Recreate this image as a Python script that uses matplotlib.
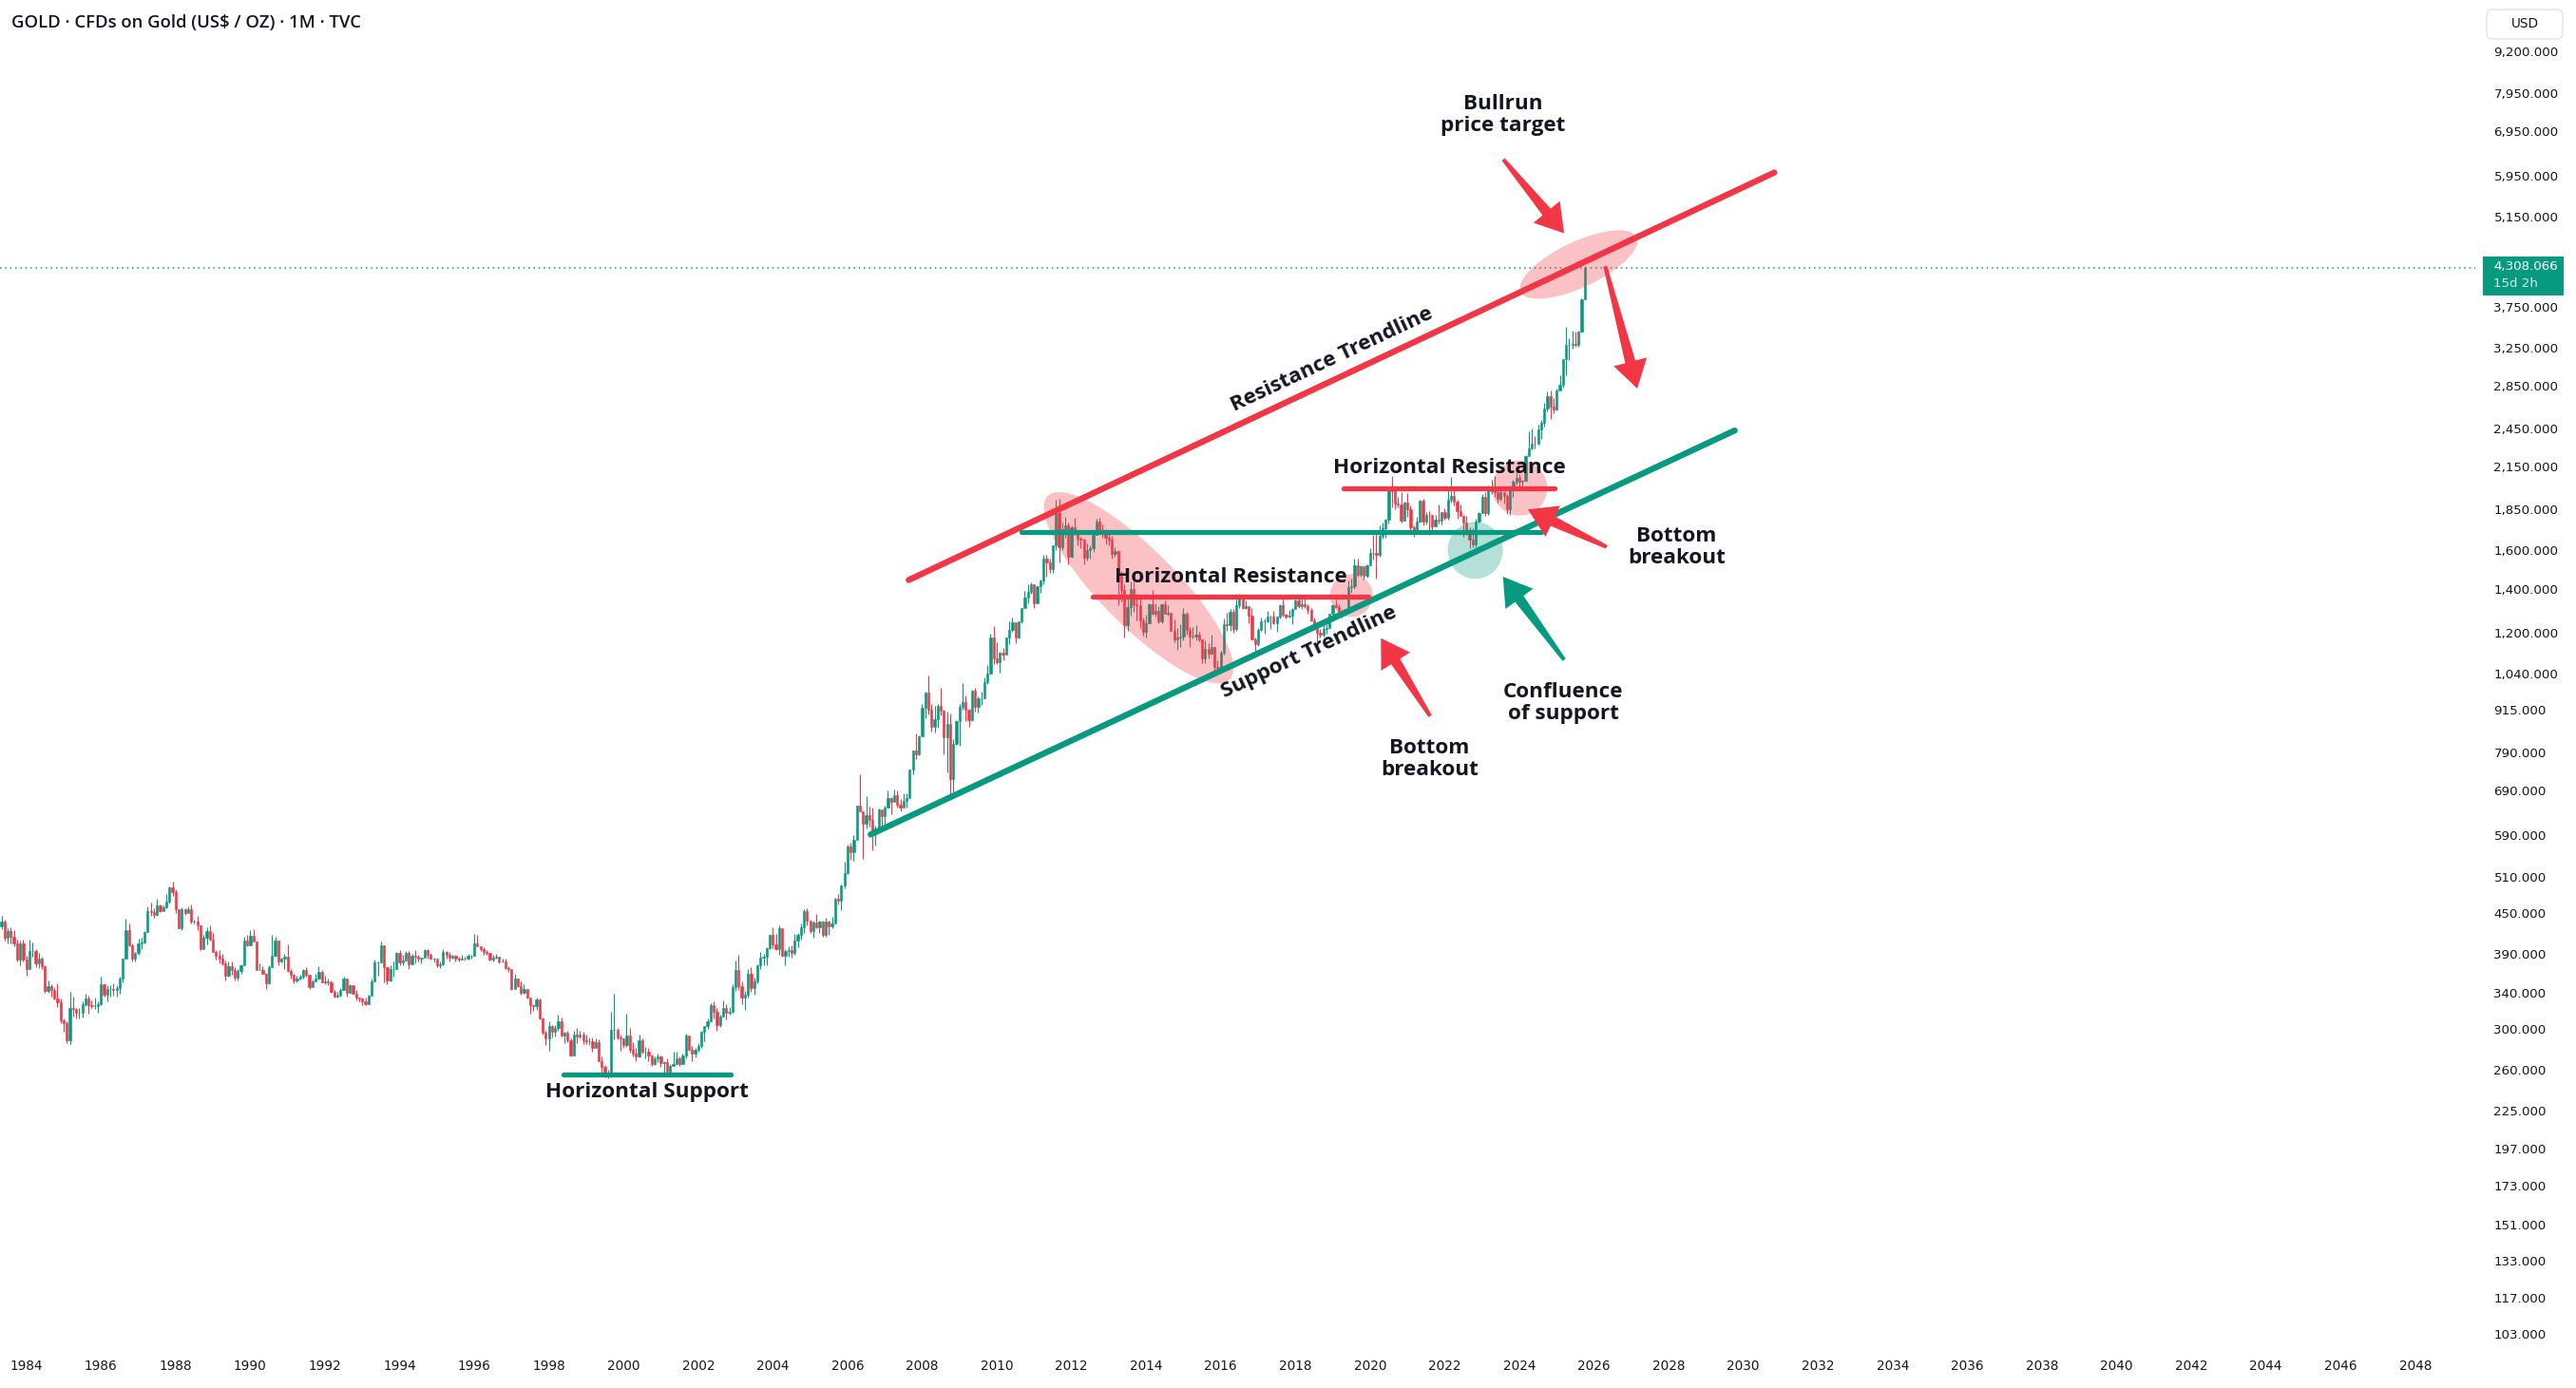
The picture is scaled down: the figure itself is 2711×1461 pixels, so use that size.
import numpy as np
import matplotlib.pyplot as plt
from matplotlib.patches import Ellipse, Polygon, Rectangle, FancyBboxPatch
from matplotlib.transforms import IdentityTransform

# monthly gold candles, first one is Apr 1983
start_year, start_month = 1983, 4
first_open = 414

closes = [
    429, 437, 413, 422, 414, 405, 382, 405, 382,  # 1983
    370, 394, 394, 377, 384, 373, 342, 348, 343, 333, 329, 309,  # 1984
    306, 288, 323, 321, 317, 317, 327, 333, 326, 325, 325, 327,  # 1985
    350, 338, 345, 345, 343, 346, 357, 384, 424, 401, 383, 391,  # 1986
    405, 406, 421, 452, 451, 447, 462, 453, 459, 468, 492, 484,  # 1987
    456, 427, 456, 449, 456, 436, 436, 430, 396, 412, 422, 410,  # 1988
    393, 387, 383, 377, 361, 373, 368, 359, 367, 375, 409, 401,  # 1989
    415, 407, 368, 368, 363, 352, 372, 387, 408, 380, 384, 386,  # 1990
    367, 362, 355, 357, 360, 368, 362, 347, 354, 358, 366, 353,  # 1991
    354, 353, 341, 336, 337, 343, 357, 340, 349, 339, 334, 333,  # 1992
    330, 327, 337, 354, 378, 378, 402, 372, 355, 370, 370, 391,  # 1993
    378, 381, 391, 376, 387, 386, 384, 385, 395, 389, 383, 383,  # 1994
    375, 376, 392, 389, 385, 387, 383, 382, 384, 383, 387, 387,  # 1995
    405, 400, 396, 392, 391, 382, 385, 386, 379, 379, 371, 369,  # 1996
    345, 358, 348, 340, 345, 334, 326, 325, 332, 311, 296, 290,  # 1997
    303, 297, 301, 308, 293, 296, 288, 273, 294, 292, 294, 288,  # 1998
    287, 287, 280, 286, 268, 262, 255, 254, 299, 299, 291, 290,  # 1999
    283, 293, 279, 275, 272, 288, 277, 277, 273, 265, 270, 272,  # 2000
    266, 267, 258, 263, 265, 270, 265, 273, 293, 279, 275, 279,  # 2001
    282, 297, 303, 308, 326, 318, 304, 313, 323, 317, 318, 347,  # 2002
    368, 348, 334, 338, 364, 346, 354, 375, 385, 386, 398, 416,  # 2003
    403, 396, 427, 387, 394, 395, 391, 408, 416, 428, 453, 438,  # 2004
    422, 435, 428, 436, 417, 436, 429, 433, 473, 470, 495, 517,  # 2005
    568, 556, 582, 654, 643, 614, 633, 624, 599, 604, 647, 632,  # 2006
    650, 672, 663, 679, 657, 650, 666, 673, 743, 795, 783, 834,  # 2007
    923, 972, 916, 864, 887, 930, 912, 833, 871, 718, 814, 882,  # 2008
    927, 942, 917, 883, 978, 927, 954, 955, 1008, 1040, 1179, 1096,  # 2009
    1081, 1118, 1113, 1180, 1213, 1244, 1181, 1248, 1307, 1357, 1386, 1421,  # 2010
    1332, 1411, 1439, 1556, 1536, 1500, 1628, 1826, 1620, 1722, 1746, 1566,  # 2011
    1738, 1711, 1669, 1664, 1561, 1604, 1614, 1692, 1773, 1719, 1711, 1675,  # 2012
    1664, 1579, 1596, 1476, 1393, 1234, 1313, 1396, 1327, 1323, 1253, 1202,  # 2013
    1240, 1326, 1284, 1295, 1250, 1327, 1282, 1287, 1208, 1171, 1182, 1184,  # 2014
    1283, 1213, 1183, 1183, 1190, 1172, 1095, 1133, 1115, 1142, 1064, 1061,  # 2015
    1118, 1238, 1234, 1293, 1214, 1322, 1351, 1309, 1316, 1272, 1173, 1151,  # 2016
    1211, 1249, 1249, 1268, 1268, 1242, 1269, 1322, 1280, 1271, 1275, 1303,  # 2017
    1345, 1318, 1325, 1315, 1299, 1253, 1224, 1201, 1192, 1215, 1222, 1282,  # 2018
    1321, 1313, 1292, 1284, 1305, 1409, 1414, 1520, 1472, 1513, 1464, 1517,  # 2019
    1589, 1585, 1577, 1686, 1730, 1781, 1975, 1968, 1886, 1879, 1776, 1895,  # 2020
    1848, 1734, 1708, 1769, 1907, 1770, 1814, 1813, 1743, 1783, 1775, 1829,  # 2021
    1797, 1909, 1937, 1897, 1838, 1807, 1766, 1711, 1661, 1633, 1768, 1824,  # 2022
    1928, 1827, 1969, 1990, 1963, 1919, 1965, 1940, 1849, 1983, 2036, 2063,  # 2023
    2039, 2044, 2230, 2286, 2327, 2326, 2447, 2503, 2634, 2744, 2650, 2624,  # 2024
    2798, 2858, 3124, 3289, 3289, 3303, 3290, 3448, 3858, 4308.066,  # 2025
]

highs = [
    436, 445, 440, 427, 428, 424, 410, 408, 410,
    387, 410, 406, 397, 391, 386, 374, 355, 351, 347, 352, 333,
    311, 308, 341, 336, 322, 322, 330, 339, 337, 331, 334, 330,
    360, 352, 349, 349, 352, 349, 360, 384, 441, 433, 404, 392,
    411, 412, 422, 460, 467, 457, 472, 464, 462, 481, 493, 502,
    488, 455, 459, 457, 460, 463, 440, 445, 431, 417, 428, 431,
    420, 395, 395, 390, 381, 380, 380, 372, 370, 376, 414, 417,
    423, 425, 407, 377, 373, 365, 374, 416, 414, 409, 385, 390,
    403, 370, 364, 361, 362, 370, 372, 362, 356, 364, 373, 368,
    361, 358, 355, 343, 341, 346, 360, 358, 351, 349, 343, 335,
    334, 334, 338, 358, 382, 380, 407, 401, 372, 375, 379, 392,
    395, 389, 394, 394, 390, 395, 389, 385, 397, 397, 391, 385,
    381, 379, 397, 394, 392, 389, 389, 386, 388, 386, 390, 388,
    418, 416, 400, 399, 395, 391, 389, 390, 386, 384, 383, 373,
    368, 364, 358, 354, 351, 345, 334, 327, 335, 333, 312, 298,
    308, 304, 304, 315, 312, 297, 298, 290, 298, 301, 298, 297,
    294, 291, 291, 290, 289, 272, 264, 260, 318, 339, 301, 294,
    290, 316, 301, 286, 280, 294, 290, 281, 280, 274, 272, 275,
    273, 268, 270, 265, 277, 277, 272, 275, 295, 291, 282, 280,
    285, 298, 303, 311, 328, 330, 322, 315, 331, 327, 324, 350,
    381, 389, 354, 342, 370, 372, 359, 376, 392, 390, 399, 417,
    428, 418, 431, 427, 396, 400, 402, 418, 420, 433, 456, 457,
    430, 438, 448, 438, 438, 442, 438, 444, 474, 480, 497, 538,
    571, 576, 591, 654, 732, 633, 677, 652, 651, 610, 649, 639,
    655, 690, 674, 692, 690, 671, 683, 685, 744, 795, 842, 838,
    936, 975, 1033, 934, 929, 934, 988, 917, 911, 904, 827, 883,
    936, 1006, 963, 919, 982, 989, 960, 975, 1025, 1070, 1195, 1227,
    1161, 1124, 1136, 1180, 1249, 1265, 1214, 1249, 1307, 1388, 1424, 1431,
    1423, 1411, 1447, 1575, 1577, 1554, 1632, 1913, 1921, 1762, 1803, 1764,
    1745, 1792, 1720, 1679, 1668, 1640, 1630, 1693, 1788, 1796, 1755, 1723,
    1694, 1682, 1617, 1605, 1487, 1423, 1348, 1434, 1434, 1362, 1362, 1267,
    1280, 1332, 1392, 1331, 1316, 1332, 1345, 1322, 1287, 1255, 1222, 1238,
    1307, 1293, 1224, 1224, 1232, 1205, 1174, 1169, 1157, 1191, 1142, 1088,
    1128, 1263, 1287, 1306, 1303, 1362, 1375, 1366, 1342, 1319, 1307, 1180,
    1220, 1264, 1261, 1295, 1272, 1296, 1270, 1326, 1357, 1283, 1299, 1308,
    1366, 1361, 1356, 1366, 1326, 1309, 1265, 1218, 1214, 1243, 1237, 1284,
    1326, 1347, 1324, 1301, 1306, 1439, 1452, 1555, 1557, 1518, 1516, 1523,
    1611, 1689, 1704, 1747, 1765, 1789, 1983, 2075, 1992, 1933, 1965, 1900,
    1959, 1871, 1745, 1798, 1913, 1916, 1832, 1834, 1808, 1814, 1877, 1831,
    1853, 1974, 2070, 1998, 1910, 1879, 1814, 1807, 1735, 1730, 1786, 1833,
    1949, 1960, 2009, 2048, 2079, 1983, 1987, 1949, 1953, 2009, 2052, 2135,
    2088, 2051, 2236, 2431, 2450, 2387, 2483, 2531, 2685, 2790, 2801, 2726,
    2817, 2956, 3128, 3500, 3365, 3452, 3439, 3453, 3872, 4330,
]

lows = [
    412, 425, 408, 405, 405, 400, 380, 374, 380,
    361, 369, 386, 372, 371, 369, 340, 340, 336, 332, 324, 306,
    297, 285, 284, 313, 311, 311, 312, 325, 316, 322, 321, 317,
    326, 336, 330, 336, 337, 336, 339, 353, 383, 400, 380, 380,
    388, 396, 404, 421, 446, 442, 446, 451, 454, 457, 465, 478,
    450, 426, 424, 447, 449, 434, 433, 424, 395, 403, 403, 409,
    393, 382, 377, 375, 355, 360, 362, 355, 355, 364, 375, 400,
    401, 408, 368, 368, 363, 345, 350, 372, 386, 375, 378, 370,
    366, 358, 352, 353, 356, 357, 360, 345, 348, 355, 356, 353,
    350, 349, 340, 335, 334, 337, 343, 336, 340, 339, 331, 330,
    326, 326, 327, 337, 354, 361, 378, 353, 350, 354, 360, 369,
    374, 375, 380, 369, 376, 377, 379, 377, 385, 383, 382, 378,
    372, 371, 374, 384, 380, 383, 380, 380, 382, 381, 382, 384,
    387, 400, 394, 389, 388, 381, 379, 383, 377, 378, 369, 366,
    343, 345, 347, 338, 339, 333, 316, 319, 320, 310, 294, 283,
    278, 291, 292, 298, 292, 285, 286, 272, 273, 285, 290, 284,
    284, 283, 277, 281, 268, 257, 253, 252, 253, 289, 289, 278,
    280, 281, 276, 272, 268, 271, 275, 270, 268, 263, 264, 267,
    262, 256, 256, 257, 264, 265, 263, 265, 270, 278, 268, 271,
    277, 280, 287, 300, 308, 311, 298, 302, 313, 310, 315, 317,
    342, 344, 327, 320, 335, 341, 338, 352, 370, 375, 374, 396,
    398, 395, 388, 386, 375, 386, 385, 388, 399, 410, 420, 430,
    419, 412, 426, 420, 414, 414, 417, 427, 435, 464, 454, 490,
    515, 541, 540, 582, 642, 543, 605, 608, 560, 570, 600, 610,
    608, 650, 636, 668, 650, 642, 650, 650, 672, 730, 770, 780,
    845, 889, 902, 850, 845, 860, 898, 784, 736, 681, 686, 809,
    807, 917, 880, 863, 881, 910, 908, 931, 953, 1001, 1044, 1075,
    1075, 1045, 1090, 1114, 1154, 1203, 1157, 1178, 1242, 1315, 1331, 1376,
    1309, 1329, 1380, 1423, 1462, 1478, 1480, 1603, 1535, 1603, 1674, 1523,
    1563, 1689, 1627, 1615, 1527, 1547, 1555, 1593, 1690, 1698, 1672, 1636,
    1627, 1555, 1565, 1321, 1338, 1180, 1208, 1273, 1292, 1251, 1221, 1187,
    1182, 1240, 1278, 1268, 1240, 1240, 1282, 1273, 1206, 1161, 1131, 1142,
    1167, 1191, 1142, 1178, 1169, 1163, 1077, 1077, 1098, 1111, 1052, 1046,
    1062, 1111, 1208, 1209, 1200, 1208, 1310, 1302, 1302, 1241, 1171, 1122,
    1146, 1208, 1195, 1245, 1215, 1236, 1205, 1262, 1271, 1260, 1265, 1236,
    1303, 1307, 1302, 1310, 1282, 1250, 1211, 1160, 1180, 1183, 1196, 1221,
    1276, 1307, 1281, 1266, 1273, 1301, 1382, 1400, 1459, 1458, 1445, 1454,
    1517, 1548, 1451, 1568, 1670, 1671, 1757, 1863, 1849, 1860, 1765, 1775,
    1803, 1717, 1677, 1721, 1767, 1750, 1751, 1688, 1721, 1746, 1759, 1753,
    1780, 1781, 1890, 1872, 1787, 1805, 1681, 1688, 1615, 1618, 1617, 1765,
    1824, 1805, 1810, 1950, 1933, 1893, 1903, 1885, 1816, 1810, 1931, 2016,
    2002, 1984, 2039, 2228, 2277, 2286, 2318, 2364, 2472, 2603, 2537, 2583,
    2614, 2833, 2833, 2957, 3121, 3247, 3268, 3268, 3436, 3851,
]

price_ticks = [103, 117, 133, 151, 173, 197, 225, 260, 300, 340, 390, 450, 510,
               590, 690, 790, 915, 1040, 1200, 1400, 1600, 1850, 2150, 2450,
               2850, 3250, 3750, 5150, 5950, 6950, 7950, 9200]
year_ticks = list(range(1984, 2049, 2))
last_price = 4308.066

GREEN = '#089981'
RED = '#F23645'
TXT = '#131722'
FONT = ['Open Sans', 'DejaVu Sans']

W, H = 2711, 1461
fig = plt.figure(figsize=(W / 100, H / 100), dpi=100)
ax = fig.add_axes([0, 41 / H, 2605 / W, 1420 / H])
ax.set_yscale('log')
ax.set_xlim(1983.295, 2049.61)
ax.set_ylim(97.7, 10996)
for s in ax.spines.values():
    s.set_visible(False)

# candles
n = len(closes)
t = np.array([start_year + (start_month - 1 + i) / 12 for i in range(n)])
c = np.array(closes, dtype=float)
o = np.concatenate([[first_open], c[:-1]])
hi = np.array(highs, dtype=float)
lo = np.array(lows, dtype=float)
col = np.where(c >= o, GREEN, RED)
ax.vlines(t, lo, hi, colors=col, linewidth=0.8, zorder=2)
ax.bar(t, np.abs(c - o), bottom=np.minimum(o, c), width=0.68 / 12,
       color=col, edgecolor=col, linewidth=0.4, zorder=3)

# last price line
ax.axhline(last_price, color=GREEN, lw=1.1, ls=(0, (1, 2.5)), zorder=1)

# ticks
ax.yaxis.tick_right()
ax.set_yticks(price_ticks)
ax.set_yticklabels([f"{v:,.3f}" for v in price_ticks])
ax.yaxis.set_minor_locator(plt.NullLocator())
ax.tick_params(axis='y', length=0, pad=14, labelsize=9.6, labelcolor=TXT)
ax.set_xticks(year_ticks)
ax.set_xticklabels([str(y) for y in year_ticks])
ax.tick_params(axis='x', length=0, pad=8, labelsize=9.8, labelcolor=TXT)

# drawings
def seg(x0, x1, p0, p1, color, lw):
    ax.plot([x0, x1], [p0, p1], color=color, lw=lw, solid_capstyle='round', zorder=5)

seg(2007.64, 2030.83, 1443, 6010, RED, 4.6)          # resistance trendline
seg(2006.62, 2029.77, 592, 2436, GREEN, 4.6)         # support trendline
seg(2010.67, 2024.58, 1705, 1705, GREEN, 3.8)
seg(2012.57, 2019.96, 1363, 1363, RED, 3.8)
seg(2019.30, 2024.93, 1992, 1992, RED, 3.8)
seg(1998.39, 2002.88, 255.6, 255.6, GREEN, 3.8)

fig.canvas.draw()
ID = IdentityTransform()


def px(x, p):
    return ax.transData.transform((x, p))


def blob(x, p, w, h, ang, color):
    ax.add_patch(Ellipse(px(x, p), w, h, angle=ang, transform=ID,
                         facecolor=color, edgecolor='none', alpha=0.3, zorder=4))


blob(2013.80, 1405, 272, 80, -45.3, RED)
blob(2019.50, 1367, 45, 45, 0, RED)
blob(2024.01, 1992, 58, 58, 0, RED)
blob(2022.82, 1601, 58, 60, 0, GREEN)
blob(2025.59, 4355, 135, 48, 25.2, RED)


def arrow(x0, p0, x1, p1, color):
    a = px(x0, p0)
    b = px(x1, p1)
    d = b - a
    u = d / np.hypot(*d)
    nv = np.array([-u[1], u[0]])
    base = b - u * 29
    pts = [a + nv * 2, base + nv * 5.5, base + nv * 18, b,
           base - nv * 18, base - nv * 5.5, a - nv * 2]
    ax.add_patch(Polygon(pts, closed=True, transform=ID, facecolor=color,
                         edgecolor='none', zorder=6))


arrow(2023.57, 6293, 2025.20, 4860, RED)
arrow(2026.30, 4330, 2027.16, 2821, RED)
arrow(2026.34, 1620, 2024.23, 1848, RED)
arrow(2025.20, 1091, 2023.56, 1460, GREEN)
arrow(2021.61, 896, 2020.29, 1177, RED)

tk = dict(family=FONT, fontweight='bold', fontsize=16.2, color=TXT, ha='center',
          va='center', linespacing=1.15, zorder=7)
ax.text(2023.57, 7353, "Bullrun\nprice target", **tk)
ax.text(2028.21, 1620, "Bottom\nbreakout", **tk)
ax.text(2025.17, 938, "Confluence\nof support", **tk)
ax.text(2021.59, 771, "Bottom\nbreakout", **tk)
ax.text(2016.26, 1460, "Horizontal Resistance", **tk)
ax.text(2022.12, 2135, "Horizontal Resistance", **tk)
ax.text(2000.64, 240, "Horizontal Support", **tk)
ax.text(2018.99, 3120, "Resistance Trendline", rotation=25.2, rotation_mode='anchor', **tk)
ax.text(2018.37, 1121, "Support Trendline", rotation=25.2, rotation_mode='anchor', **tk)

# header and price scale extras
fig.text(12 / W, 1 - 24 / H, "GOLD · CFDs on Gold (US$ / OZ) · 1M · TVC", family=FONT,
         fontweight='semibold', fontsize=13.3, color=TXT, ha='left', va='center')

yl = px(2025, last_price)[1]
fig.add_artist(Rectangle((2613, yl - 29.5), 85, 41.5, transform=ID,
                         facecolor=GREEN, edgecolor='none'))
fig.text(2624 / W, (yl + 1) / H, "4,308.066", color='white', fontsize=9.6,
         ha='left', va='center')
fig.text(2624 / W, (yl - 17) / H, "15d 2h", color='white', alpha=0.8, fontsize=9.6,
         ha='left', va='center')

fig.add_artist(FancyBboxPatch((2617, H - 41), 80, 31, boxstyle='round,pad=0,rounding_size=6',
                              transform=ID, facecolor='white', edgecolor='#E0E3EB', lw=1))
fig.text(2657 / W, 1 - 25 / H, "USD", color=TXT, fontsize=9.8, ha='center', va='center')

fig.savefig('out.png', dpi=100, facecolor='white')
